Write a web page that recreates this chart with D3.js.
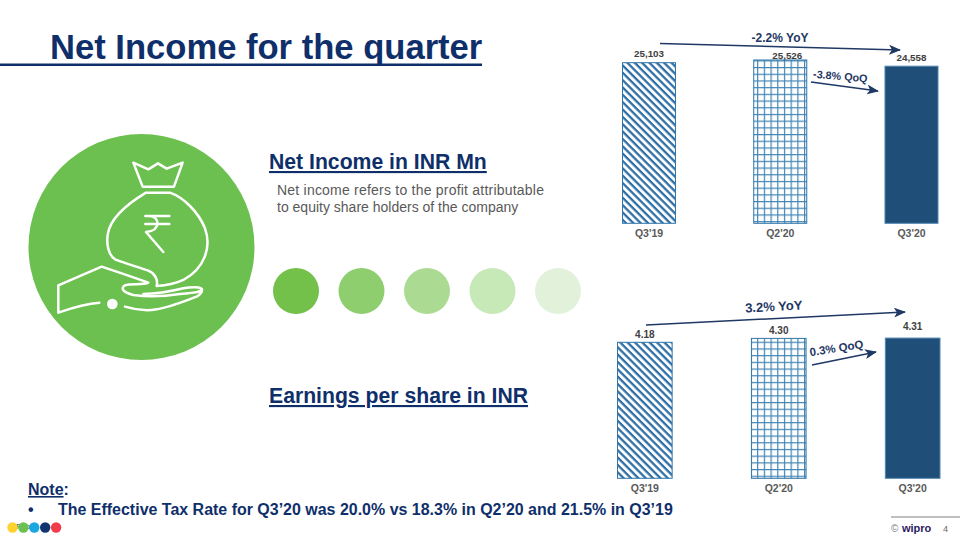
<!DOCTYPE html>
<html><head><meta charset="utf-8">
<script src="https://cdnjs.cloudflare.com/ajax/libs/d3/7.8.5/d3.min.js"></script>
<style>html,body{margin:0;padding:0;background:#fff}svg{display:block;font-family:"Liberation Sans",Arial,sans-serif}</style>
</head><body><svg id="c" width="960" height="540"></svg>
<script>
const quarters = ["Q3'19", "Q2'20", "Q3'20"];
const netIncome = [25103, 25526, 24558];
const netIncomeLabels = ["25,103", "25,526", "24,558"];
const eps = [4.18, 4.30, 4.31];
const epsLabels = ["4.18", "4.30", "4.31"];
const fills = ["url(#hatch)", "url(#grid)", "#1f4e79"];
const dotColors = ["#73c04a", "#8fce6e", "#abda93", "#c7e8b7", "#e2f2da"];
const brandDots = ["#fdd231", "#6cc04f", "#1ba6e0", "#13356f", "#ef3b4a"];

const navy = "#0f2f6b", arrowNavy = "#1f3864", green = "#6cc04f";
const svg = d3.select("#c");
const defs = svg.append("defs");

const hatch = defs.append("pattern").attr("id","hatch").attr("patternUnits","userSpaceOnUse")
  .attr("width",5.2).attr("height",5.2).attr("patternTransform","rotate(45)");
hatch.append("rect").attr("width",5.2).attr("height",5.2).attr("fill","#fff");
hatch.append("rect").attr("width",5.2).attr("height",2.3).attr("y",0).attr("fill","#2f6fa5");

const grid = defs.append("pattern").attr("id","grid").attr("patternUnits","userSpaceOnUse")
  .attr("width",6.7).attr("height",6.7);
grid.append("rect").attr("width",6.7).attr("height",6.7).attr("fill","#fff");
grid.append("path").attr("d","M0 .6H6.7M.6 0V6.7").attr("stroke","#4285b4").attr("stroke-width",1.2);

const mk = defs.append("marker").attr("id","arrow").attr("viewBox","0 0 12 10")
  .attr("refX",11).attr("refY",5).attr("markerWidth",12).attr("markerHeight",10)
  .attr("markerUnits","userSpaceOnUse").attr("orient","auto");
mk.append("path").attr("d","M0 0L12 5L0 10L3 5Z").attr("fill",arrowNavy);

// Title
svg.append("text").attr("x",50).attr("y",59).attr("font-size",34.6).attr("font-weight",700).attr("fill",navy)
  .text("Net Income for the quarter");
svg.append("rect").attr("x",0).attr("y",63.5).attr("width",482).attr("height",2.5).attr("fill",navy);

// Icon
svg.append("circle").attr("cx",141.5).attr("cy",247).attr("r",113).attr("fill",green);
const icon = svg.append("g").attr("transform","translate(20,140) scale(0.3333)")
  .attr("fill","none").attr("stroke","#fff").attr("stroke-width",7.5).attr("stroke-linejoin","round").attr("stroke-linecap","round");
icon.append("path").attr("d","M340 68L385 88L414 70L440 86L488 68L462 140H368Z");
icon.append("path").attr("d","M378 158H450C490 172 535 215 555 265C575 320 555 385 490 420C465 432 435 437 410 438C415 420 405 400 385 392C350 380 310 368 285 358C265 345 258 310 264 280C272 235 325 190 378 158Z");
icon.append("path").attr("d","M376 228H448M376 252H448M388 228C420 228 425 272 378 276L430 336");
icon.append("path").attr("d","M238 488C200 490 165 500 115 518L115 436L245 380C290 395 340 412 385 428C370 436 335 430 315 436C300 445 310 458 340 465C390 472 440 468 480 462C510 458 540 460 546 448C545 440 515 440 490 445C450 455 410 462 370 462");
icon.append("path").attr("d","M315 500C340 508 365 512 395 510C440 506 490 485 530 470C540 465 547 455 546 448");
icon.append("circle").attr("cx",277).attr("cy",492).attr("r",16).attr("fill","#fff").attr("stroke","none");

// Middle text
const midT = (t,y) => svg.append("text").attr("x",269).attr("y",y).attr("font-size",21.2).attr("font-weight",700)
  .attr("fill",navy).attr("text-decoration","underline").text(t);
midT("Net Income in INR Mn",169);
midT("Earnings per share in INR",403);
svg.append("text").attr("x",277).attr("y",195).attr("font-size",14).attr("fill","#595959")
  .attr("textLength",267).attr("lengthAdjust","spacing").text("Net income refers to the profit attributable");
svg.append("text").attr("x",277).attr("y",212).attr("font-size",14).attr("fill","#595959")
  .text("to equity share holders of the company");

svg.selectAll("circle.dot").data(dotColors).join("circle").attr("class","dot")
  .attr("cx",(d,i)=>296+i*65.5).attr("cy",291).attr("r",23).attr("fill",d=>d);

// Charts
function chart(values, labels, cfg){
  const x = d3.scaleBand().domain(quarters).range(cfg.xr).paddingInner(cfg.pad);
  const y = d3.scaleLinear().domain([0,cfg.max]).range([cfg.bottom,cfg.bottom-cfg.h]);
  const g = svg.append("g");
  g.selectAll("rect").data(values).join("rect")
    .attr("x",(d,i)=>x(quarters[i])).attr("y",d=>y(d))
    .attr("width",x.bandwidth()).attr("height",d=>cfg.bottom-y(d))
    .attr("fill",(d,i)=>fills[i]).attr("stroke",(d,i)=>i==2?"#4f86b0":"#2f75a8").attr("stroke-width",1);
  g.selectAll("text.v").data(values).join("text").attr("class","v")
    .attr("x",(d,i)=>x(quarters[i])+x.bandwidth()/2+cfg.dx[i]).attr("y",(d,i)=>y(d)-cfg.gap[i])
    .attr("text-anchor","middle").attr("font-size",cfg.vs).attr("font-weight",700).attr("fill","#404040")
    .text((d,i)=>labels[i]);
  const ax = svg.append("g").attr("transform",`translate(0,${cfg.bottom})`)
    .call(d3.axisBottom(x).tickSize(0).tickPadding(cfg.tp));
  ax.select(".domain").remove();
  ax.selectAll("text").attr("font-family","Liberation Sans").attr("font-size",10.5).attr("font-weight",700).attr("fill","#595959");
}
chart(netIncome,netIncomeLabels,{xr:[622.5,938],pad:0.596,bottom:223.3,h:160.6,max:25103,vs:9.8,tp:6,dx:[0,7,0],gap:[6,1,5.5]});
chart(eps,epsLabels,{xr:[617.5,940],pad:0.592,bottom:478.3,h:136,max:4.18,vs:10,tp:6,dx:[0,0,0],gap:[4.6,4,8]});

// Annotations
const arrows = [
  [660,43.5,900,50,"-2.2% YoY",780,42,0,12],
  [811,82,878,91,"-3.8% QoQ",840,80,5,10.8],
  [646,325,905,312,"3.2% YoY",774,311,-3,13],
  [812,365,876,352,"0.3% QoQ",837,352,-9,11.5]
];
arrows.forEach(a=>{
  svg.append("line").attr("x1",a[0]).attr("y1",a[1]).attr("x2",a[2]).attr("y2",a[3])
    .attr("stroke",arrowNavy).attr("stroke-width",1.5).attr("marker-end","url(#arrow)");
  svg.append("text").attr("transform",`translate(${a[5]},${a[6]}) rotate(${a[7]})`)
    .attr("text-anchor","middle").attr("font-size",a[8]).attr("font-weight",700).attr("fill",arrowNavy).text(a[4]);
});

// Note
svg.append("text").attr("x",28).attr("y",495).attr("font-size",16).attr("font-weight",700).attr("fill",navy)
  .html('<tspan text-decoration="underline">Note</tspan>:');
svg.append("text").attr("x",28).attr("y",515).attr("font-size",16).attr("font-weight",700).attr("fill",navy).text("•");
svg.append("text").attr("x",58).attr("y",515).attr("font-size",15.97).attr("font-weight",700).attr("fill",navy)
  .text("The Effective Tax Rate for Q3’20 was 20.0% vs 18.3% in Q2’20 and 21.5% in Q3’19");

// Footer
svg.append("text").attr("x",16).attr("y",529).attr("font-size",8).attr("fill","#333").text("Public");
svg.selectAll("circle.b").data(brandDots).join("circle").attr("class","b")
  .attr("cx",(d,i)=>12.5+i*10.9).attr("cy",527.5).attr("r",5.2).attr("fill",d=>d);
svg.append("rect").attr("x",891).attr("y",516.5).attr("width",69).attr("height",1).attr("fill","#808080");
svg.append("text").attr("x",891).attr("y",532).attr("font-size",10).attr("fill","#808080").text("©");
svg.append("text").attr("x",902).attr("y",532).attr("font-size",11).attr("font-weight",700).attr("fill","#2a1a5e").text("wipro");
svg.append("text").attr("x",943).attr("y",532).attr("font-size",9).attr("fill","#666").text("4");
</script></body></html>
